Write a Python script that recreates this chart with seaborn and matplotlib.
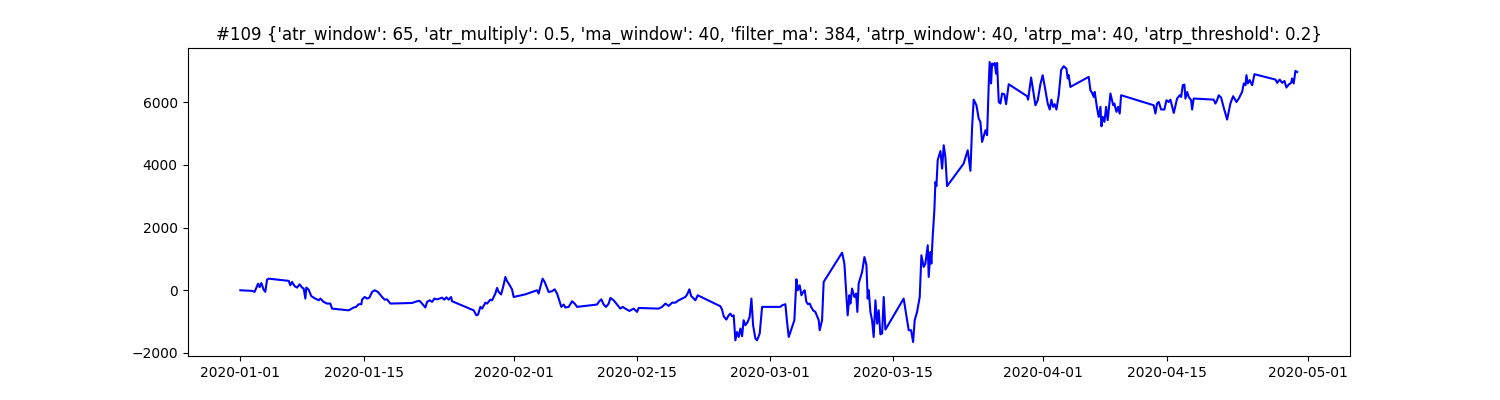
import pandas as pd
import matplotlib
matplotlib.use("Agg")
import matplotlib.pyplot as plt
import matplotlib.dates as mdates
import seaborn as sns

title = ("#109 {'atr_window': 65, 'atr_multiply': 0.5, 'ma_window': 40, "
         "'filter_ma': 384, 'atrp_window': 40, 'atrp_ma': 40, 'atrp_threshold': 0.2}")

start_date = "2020-01-01"

# days since 2020-01-01
day_offsets = [
    0.00, 1.33, 1.62, 2.01, 2.19, 2.38, 2.64, 2.83, 3.03, 3.21,
    5.48, 5.67, 5.86, 6.16, 6.43, 6.72, 7.00, 7.18, 7.37, 7.48,
    7.74, 8.05, 8.50, 8.88, 9.07, 9.44, 9.83, 10.20, 10.40, 12.28,
    12.85, 13.12, 13.41, 13.72, 13.80, 14.09, 14.37, 14.63, 14.93, 15.23,
    15.61, 16.07, 16.36, 16.63, 17.01, 19.47, 20.03, 20.33, 20.60, 20.98,
    21.17, 21.46, 21.74, 22.00, 22.30, 22.60, 22.87, 23.13, 23.36, 23.62,
    23.89, 24.00, 26.45, 26.76, 26.95, 27.21, 27.41, 27.78, 27.97, 28.34,
    28.54, 28.91, 29.10, 29.29, 29.56, 29.79, 30.05, 30.24, 30.42, 30.80,
    30.99, 32.31, 33.64, 33.82, 34.01, 34.27, 34.50, 34.95, 35.34, 35.63,
    35.91, 36.39, 36.66, 36.85, 37.22, 37.61, 37.90, 38.18, 40.44, 40.70,
    40.93, 41.19, 41.46, 41.76, 41.95, 42.32, 42.71, 43.08, 43.34, 43.65,
    44.10, 44.59, 44.98, 45.16, 47.43, 47.81, 48.19, 48.56, 48.95, 49.32,
    49.69, 50.08, 50.45, 50.65, 50.91, 51.10, 51.59, 51.85, 54.42, 54.61,
    54.80, 55.10, 55.36, 55.56, 55.75, 55.93, 56.12, 56.31, 56.50, 56.69,
    56.88, 57.06, 57.26, 57.52, 57.74, 57.94, 58.13, 58.39, 58.58, 58.88,
    59.15, 61.22, 61.42, 61.79, 61.98, 62.17, 62.36, 62.55, 62.81, 63.04,
    63.19, 63.41, 63.61, 63.80, 63.98, 64.17, 64.36, 64.55, 64.71, 64.93,
    65.19, 65.57, 65.68, 65.95, 66.13, 68.22, 68.48, 68.85, 69.05, 69.16,
    69.35, 69.61, 69.81, 69.95, 70.10, 70.49, 70.75, 70.98, 71.12, 71.24,
    71.43, 71.62, 71.80, 72.00, 72.19, 72.37, 72.56, 72.76, 72.94, 73.13,
    75.20, 75.77, 76.04, 76.27, 76.45, 76.72, 77.02, 77.21, 77.47, 77.66,
    77.93, 78.04, 78.23, 78.34, 78.49, 78.68, 78.80, 78.91, 79.06, 79.37,
    79.56, 79.74, 79.93, 80.12, 82.00, 82.46, 82.77, 82.96, 83.14, 83.45,
    83.71, 83.90, 84.09, 84.27, 84.47, 84.66, 84.84, 84.95, 85.11, 85.22,
    85.41, 85.52, 85.68, 85.79, 85.98, 86.17, 86.36, 86.62, 86.81, 87.11,
    89.19, 89.31, 89.65, 89.88, 90.14, 90.40, 90.70, 90.96, 91.27, 91.53,
    91.76, 91.95, 92.14, 92.32, 92.52, 92.78, 93.05, 93.34, 93.65, 93.80,
    93.91, 94.10, 96.18, 96.37, 96.56, 96.75, 96.86, 97.13, 97.31, 97.51,
    97.62, 97.77, 97.96, 98.15, 98.33, 98.64, 98.95, 99.09, 99.32, 99.51,
    99.69, 99.85, 103.55, 103.74, 103.93, 104.12, 104.39, 104.76, 104.99, 105.25,
    105.44, 105.82, 106.20, 106.50, 106.66, 106.84, 107.03, 107.14, 107.34, 107.52,
    107.79, 107.90, 108.08, 110.35, 110.54, 110.73, 110.92, 111.19, 111.48, 111.87,
    112.24, 112.55, 112.93, 113.19, 113.57, 113.76, 113.95, 114.06, 114.21, 114.43,
    114.71, 114.97, 117.35, 117.54, 117.83, 118.11, 118.37, 118.59, 118.85, 119.13,
    119.24, 119.42, 119.61, 119.81,
]

equity = [
    0, -20, -50, 210, 100, 230, 20, -50, 340, 370,
    300, 160, 265, 130, 85, 190, 85, 55, -265, 85,
    20, -190, -265, -320, -265, -370, -425, -425, -585, -640,
    -550, -530, -445, -445, -300, -215, -265, -235, -55, 0,
    -55, -215, -300, -290, -425, -405, -350, -340, -425, -550,
    -370, -320, -370, -265, -290, -265, -235, -300, -225, -300,
    -215, -350, -640, -800, -775, -530, -585, -395, -425, -300,
    -320, -105, 75, -55, -135, 105, 425, 290, 215, 30,
    -215, -130, 0, -105, 105, 370, 265, -55, -30, 30,
    -105, -530, -455, -550, -530, -350, -425, -530, -455, -350,
    -290, -455, -530, -425, -245, -320, -455, -585, -530, -585,
    -660, -585, -690, -565, -585, -530, -425, -500, -395, -395,
    -320, -265, -215, -135, 30, -180, -320, -160, -510, -615,
    -830, -935, -800, -745, -830, -800, -1595, -1330, -1490, -1220,
    -1465, -955, -1115, -1010, -850, -265, -1115, -1540, -1595, -1380,
    -530, -530, -480, -445, -1010, -1490, -1330, -1170, -955, 350,
    0, 160, -160, -55, 0, -370, -445, -425, -530, -640,
    -690, -955, -1275, -955, 265, 1200, 850, -800, -160, -425,
    55, -215, -105, -690, 215, 585, 1060, 800, -265, 0,
    -690, -955, -1490, -320, -1065, -640, -1405, -1380, -215, -1255,
    -265, -1275, -1275, -1650, -955, -690, -215, 1115, 745, 850,
    1435, 425, 1220, 850, 1700, 2550, 3455, 3320, 4150, 4440,
    3880, 4625, 4250, 3320, 4040, 4465, 3810, 5210, 6080, 5900,
    5475, 5370, 4730, 4910, 5105, 4945, 6540, 7280, 6595, 7230,
    7180, 7250, 6910, 7250, 6005, 5955, 6275, 6250, 5935, 6570,
    6190, 6080, 6785, 6380, 5900, 6060, 6570, 6860, 6380, 5955,
    5765, 6080, 5850, 5935, 5765, 6220, 7020, 7145, 7070, 6755,
    6860, 6485, 6805, 6380, 6295, 6165, 6325, 5795, 5530, 5850,
    5230, 5530, 5370, 5850, 5425, 6275, 5900, 5955, 5690, 5850,
    5635, 6220, 5900, 5635, 5955, 6005, 5765, 5765, 6060, 6005,
    6080, 5655, 6115, 6220, 6165, 6540, 6560, 6115, 6325, 6165,
    6060, 5765, 6115, 6080, 5955, 6060, 6220, 6145, 5830, 5445,
    5955, 6190, 6005, 6115, 6325, 6595, 6540, 6860, 6595, 6700,
    6540, 6890, 6720, 6615, 6720, 6615, 6675, 6465, 6560, 6615,
    6755, 6595, 6995, 6960,
]

df = pd.DataFrame({
    "time": pd.Timestamp(start_date) + pd.to_timedelta(day_offsets, unit="D"),
    "equity": equity,
})

fig, ax = plt.subplots(figsize=(15, 4), dpi=100)
sns.lineplot(data=df, x="time", y="equity", color="blue", linewidth=1.5, ax=ax)
ax.set_title(title)
ax.set_xlabel("")
ax.set_ylabel("")
ax.xaxis.set_major_locator(mdates.DayLocator(bymonthday=[1, 15]))
ax.xaxis.set_major_formatter(mdates.DateFormatter("%Y-%m-%d"))
plt.savefig("out.png", dpi=100)
plt.close()
